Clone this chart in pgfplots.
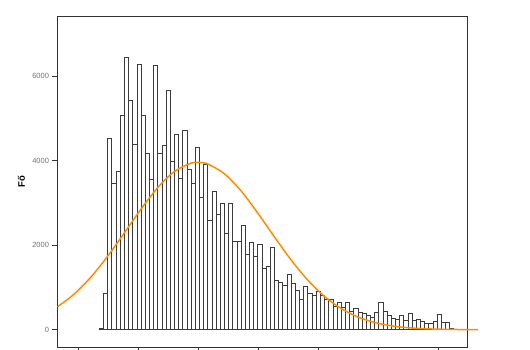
\documentclass[border=0pt]{standalone}
\usepackage{fontspec}
\setmainfont{Liberation Sans}
\usepackage{pgfplots}
\pgfplotsset{compat=1.18}
\definecolor{curvec}{RGB}{255,140,0}
\definecolor{framec}{RGB}{50,50,50}
\definecolor{barc}{RGB}{60,60,60}
\begin{document}
\begin{tikzpicture}
\path[use as bounding box] (-57.5pt,-3pt) rectangle (472.5pt,347pt);
\begin{axis}[
 at={(0pt,0pt)}, anchor=south west,
 width=409.5pt, height=331pt, scale only axis,
 xmin=-10.02, xmax=88.18, ymin=-410, ymax=7425,
 xtick={-5.04,9.34,23.72,38.10,52.48,66.86,81.24},
 xticklabels={},
 ytick={0,2000,4000,6000},
 tick pos=left, tick align=outside,
 major tick length=5pt,
 axis line style={framec, line width=0.8pt},
 tick style={framec, line width=0.8pt},
 yticklabel style={font=\fontsize{7.5}{9}\selectfont, text=black!55},
 /pgf/number format/1000 sep={},
 /pgf/number format/assume math mode=true,
 ylabel={\textbf{Fő}},
 ylabel style={font=\fontsize{9.5}{11}\selectfont, at={(axis description cs:-0.0879,0.5)}, anchor=center},
 clip=false,
]
\addplot[ybar interval, fill=white, draw=barc, line width=0.6pt] coordinates {
(0,30) (1,870) (2,4526) (3,3475) (4,3745) (5,5070) (6,6443) (7,5425) (8,4384) (9,6277)
(10,5085) (11,4185) (12,3562) (13,6253) (14,4185) (15,4360) (16,5662) (17,3975) (18,4620) (19,3580)
(20,4722) (21,3790) (22,3470) (23,4325) (24,3125) (25,3910) (26,2584) (27,3286) (28,2726) (29,2987)
(30,2270) (31,2987) (32,2095) (33,2095) (34,2466) (35,1780) (36,2064) (37,1740) (38,2017) (39,1463)
(40,1490) (41,1960) (42,1165) (43,1115) (44,1045) (45,1305) (46,1090) (47,925) (48,722) (49,1035)
(50,855) (51,808) (52,918) (53,808) (54,714) (55,714) (56,560) (57,643) (58,525) (59,643)
(60,439) (61,502) (62,408) (63,376) (64,329) (65,298) (66,416) (67,655) (68,431) (69,337)
(70,259) (71,243) (72,337) (73,220) (74,384) (75,220) (76,235) (77,188) (78,157) (79,157)
(80,204) (81,361) (82,173) (83,173) (84,39) (85,0)
};
\addplot[curvec, line width=1.5pt, smooth] coordinates {
(-10.02,540) (-6,845) (-2,1246) (2,1737) (6,2290) (10,2853) (14,3361) (18,3743) (22,3941)
(23.67,3960) (26,3922) (30,3691) (34,3284) (38,2762) (42,2196) (46,1651) (50,1173) (54,788)
(58,501) (62,301) (66,171) (70,92) (74,46) (78,22) (82,10) (86,4) (90.8,1)
};
\end{axis}
\end{tikzpicture}
\end{document}
